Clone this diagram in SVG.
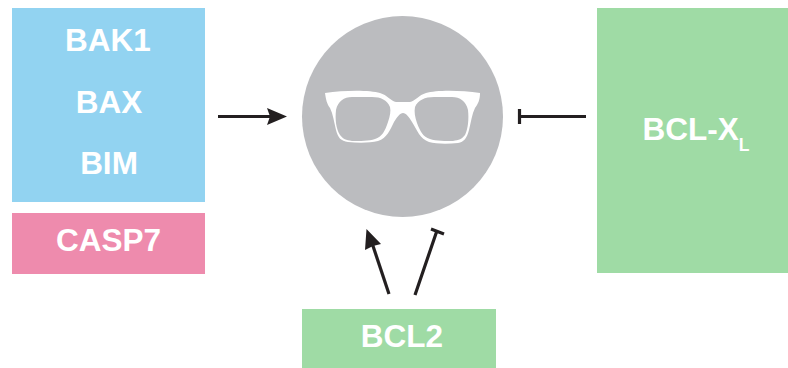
<svg xmlns="http://www.w3.org/2000/svg" width="788" height="368" viewBox="0 0 788 368">
<style>
text{font-family:"Liberation Sans",Arial,sans-serif;font-weight:700;fill:#fff;font-size:31.500px;text-anchor:middle}
.l{stroke:#231f20;stroke-width:3.200;fill:none}
.h{fill:#231f20}
</style>
<rect width="788" height="368" fill="#fff"/>
<g id="pro-apoptotic">
<rect x="12" y="8" width="193" height="194" fill="#92d3f1"/>
<text x="108" y="51">BAK1</text>
<text x="109" y="113">BAX</text>
<text x="109" y="174">BIM</text>
</g>
<g id="casp7">
<rect x="12" y="213" width="193" height="61" fill="#ee8bad"/>
<text x="108.500" y="251">CASP7</text>
</g>
<g id="cell">
<circle cx="402.500" cy="116.500" r="100.500" fill="#bbbcbf"/>
<path fill="#fff" fill-rule="evenodd" d="M325 93C345 90 370 90 380 93C387 95 391 101 396 102L410 102C415 101 419 95 426 93C436 90 460 90 480 93C480 100 478 104 475 108C472 114 471 122 469 130C467 138 464 142 458 143C448 144 436 144 429 142C420 139 417 130 412 122C409 117 406 113 403 113C400 113 397 117 394 122C390 130 387 138 378 141C370 143 358 143 348 142C341 141 338 138 336 130C334 122 333 114 330 108C327 104 326 100 325 93Z
M352 97C344 97 338 101 336 110C335 119 336 129 340 135C343 139 346 140 352 141C360 141 369 141 375 139C382 137 385 131 388 122C390 116 391 111 390 107C387 100 381 97 372 97Z
M434 97C425 97 418 100 415 107C414 112 415 117 417 123C420 131 423 137 430 139C436 141 446 141 453 141C459 140 462 139 465 135C468 129 469 119 468 110C466 101 460 97 452 97Z"/>
</g>
<g id="bcl-xl">
<rect x="597" y="8" width="191" height="265" fill="#9fdba5"/>
<text x="696" y="140">BCL-X<tspan font-size="17.500" dy="10.500">L</tspan></text>
</g>
<g id="bcl2">
<rect x="302" y="309" width="194" height="59" fill="#9fdba5"/>
<text x="402" y="347">BCL2</text>
</g>
<g id="connectors">
<path class="l" d="M218 116.500H272"/>
<path class="h" d="M287 116.500L267 108L270 116.500L267 125Z"/>
<path class="l" d="M586 116.500H520M519.500 109V124"/>
<path class="l" d="M389 294L372 243"/>
<path class="h" d="M366.500 229L365 250L373 246L381 244Z"/>
<path class="l" d="M415 295L436.500 232M431 229L444 234"/>
</g>
</svg>
